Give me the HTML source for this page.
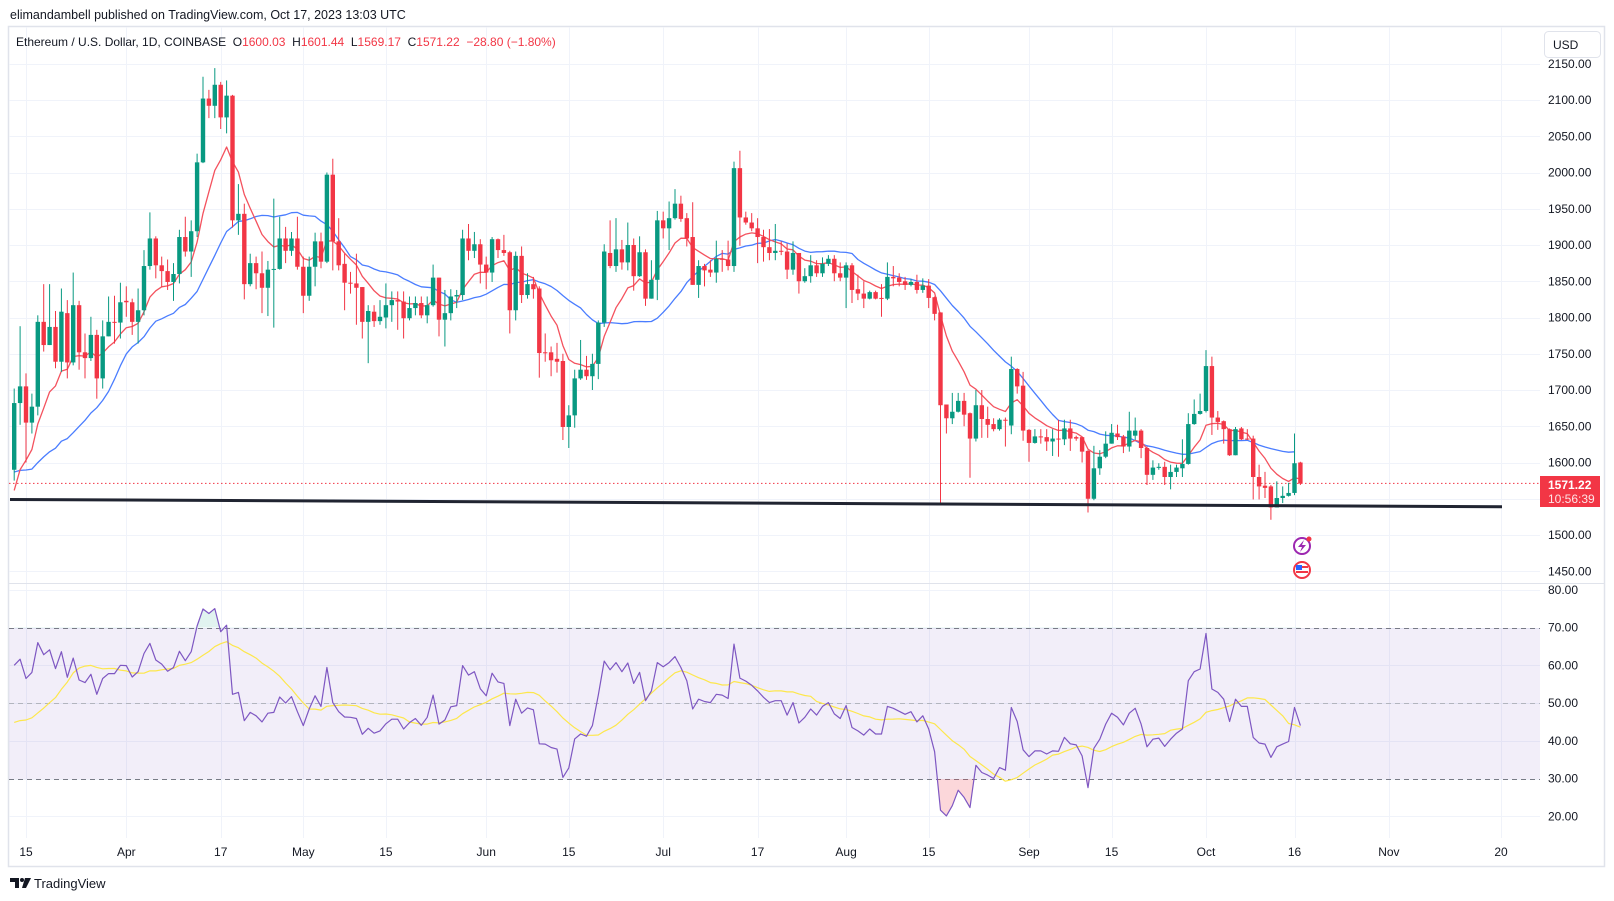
<!DOCTYPE html>
<html><head><meta charset="utf-8">
<style>
html,body{margin:0;padding:0;background:#fff;width:1614px;height:901px;overflow:hidden}
svg{display:block;font-family:"Liberation Sans",sans-serif}
</style></head>
<body>
<svg id="chart" width="1614" height="901" viewBox="0 0 1614 901" xmlns="http://www.w3.org/2000/svg">
<defs>
<clipPath id="pricePane"><rect x="9" y="27" width="1531" height="556"/></clipPath>
<clipPath id="above70"><rect x="9" y="584" width="1531" height="44"/></clipPath>
<clipPath id="below30"><rect x="9" y="779" width="1531" height="60"/></clipPath>
</defs>
<text x="10" y="19" font-size="12.5" fill="#131722">elimandambell published on TradingView.com, Oct 17, 2023 13:03 UTC</text>
<rect x="8.5" y="26.5" width="1596" height="840" fill="#fff" stroke="#e0e3eb" stroke-width="1.5"/>
<g id="grid"></g>
<rect x="9" y="628" width="1531" height="151" fill="#7e57c2" fill-opacity="0.1"/>
<g id="rsiLevels"></g>
<g id="price" clip-path="url(#pricePane)"></g>
<g id="rsi"></g>
<line x1="9" y1="583.5" x2="1604" y2="583.5" stroke="#e0e3eb"/>
<g id="axes"></g>
<text x="16" y="46" font-size="12" fill="#131722" style="white-space:pre" xml:space="preserve">Ethereum / U.S. Dollar, 1D, COINBASE  O<tspan fill="#f23645">1600.03</tspan>  H<tspan fill="#f23645">1601.44</tspan>  L<tspan fill="#f23645">1569.17</tspan>  C<tspan fill="#f23645">1571.22  −28.80 (−1.80%)</tspan></text>
<g>
<rect x="1544.5" y="31.5" width="56" height="26" rx="4" fill="#fff" stroke="#e0e3eb"/>
<text x="1553" y="49" font-size="12" fill="#131722">USD</text>
</g>
<g>
<rect x="1540" y="476" width="60" height="31" fill="#f23645"/>
<text x="1548" y="489" font-size="12" font-weight="bold" fill="#fff">1571.22</text>
<text x="1548" y="503" font-size="12" fill="#fde4e6">10:56:39</text>
</g>
<g>
<circle cx="1302" cy="546" r="8" fill="#fff" stroke="#9c27b0" stroke-width="2"/>
<path d="M1304,540 L1298,547 L1302,547 L1300,552 L1306,545 L1302,545 Z" fill="#9c27b0"/>
<circle cx="1309" cy="539" r="2.5" fill="#f23645"/>
</g>
<g>
<circle cx="1302" cy="570" r="8" fill="#fff" stroke="#f23645" stroke-width="2"/>
<rect x="1296" y="566" width="12" height="2" fill="#f23645"/>
<rect x="1296" y="571" width="12" height="2" fill="#f23645"/>
<rect x="1296" y="565" width="6" height="5" fill="#2962ff"/>
</g>
<g>
<path d="M10,878 h9 v10 h-4 v-6 h-5 z" fill="#131722"/>
<circle cx="22" cy="880" r="2" fill="#131722"/>
<path d="M25,878 h6 l-5,10 h-4 z" fill="#131722"/>
<text x="34" y="888" font-size="13" fill="#131722">TradingView</text>
</g>
</svg>
<script>
// ---- data ----
const preCloses = [1660,1643,1650,1607,1595,1640,1634,1605,1664,1647,1569,1566,1564,1565,1562,1534,1438,1430,1480,1590];
const opens = [1590,1682,1705,1655,1677,1794,1762,1787,1739,1806,
1738,1817,1752,1744,1776,1716,1774,1794,1793,1823,
1821,1794,1810,1871,1909,1872,1864,1849,1860,1911,
1891,1919,2014,2102,2092,2121,2076,2106,1934,1943,
1846,1875,1861,1841,1866,1867,1909,1892,1909,1870,
1830,1870,1905,1877,1997,1905,1874,1848,1847,1842,
1794,1808,1795,1800,1817,1824,1822,1799,1813,1820,
1803,1817,1855,1797,1806,1829,1831,1909,1892,1901,
1873,1862,1908,1893,1890,1810,1885,1831,1846,1840,
1752,1752,1743,1740,1649,1665,1716,1728,1719,1736,
1793,1889,1871,1894,1876,1900,1857,1890,1826,1852,
1934,1923,1937,1957,1937,1911,1845,1871,1866,1862,
1881,1880,1871,2006,1938,1931,1923,1911,1897,1889,
1892,1891,1866,1889,1850,1857,1872,1861,1874,1881,
1861,1855,1872,1839,1833,1826,1835,1827,1826,1856,
1855,1850,1845,1849,1838,1844,1828,1807,1680,1661,
1670,1685,1668,1633,1679,1660,1653,1646,1659,1651,
1729,1706,1645,1627,1636,1635,1629,1633,1632,1647,
1635,1635,1616,1550,1592,1608,1626,1640,1636,1622,
1637,1644,1620,1583,1593,1594,1580,1587,1592,1598,
1653,1667,1671,1733,1662,1657,1646,1610,1647,1633,
1633,1580,1568,1567,1538,1551,1554,1558,1600];
const closes = [1682,1705,1655,1677,1794,1762,1787,1739,1808,1738,
1817,1752,1744,1776,1716,1774,1794,1793,1821,1821,
1794,1810,1871,1909,1872,1864,1849,1860,1911,1891,
1919,2014,2102,2092,2121,2076,2106,1934,1943,1846,
1875,1861,1841,1866,1867,1909,1892,1909,1870,1830,
1870,1905,1877,1997,1905,1872,1848,1847,1841,1794,
1809,1795,1801,1817,1824,1822,1799,1813,1820,1803,
1817,1855,1797,1806,1829,1831,1909,1892,1901,1873,
1862,1908,1893,1889,1810,1885,1831,1846,1839,1751,
1751,1741,1739,1649,1665,1716,1728,1719,1736,1793,
1891,1871,1894,1876,1900,1857,1890,1826,1852,1934,
1923,1937,1957,1936,1909,1845,1871,1865,1862,1881,
1880,1871,2006,1938,1931,1923,1911,1897,1889,1892,
1891,1866,1889,1850,1857,1872,1861,1874,1881,1861,
1855,1872,1838,1833,1826,1835,1826,1826,1856,1854,
1849,1845,1849,1838,1844,1827,1805,1679,1661,1670,
1685,1666,1633,1679,1660,1652,1646,1659,1658,1729,
1705,1644,1627,1636,1635,1629,1633,1632,1647,1633,
1633,1615,1550,1592,1608,1626,1641,1635,1622,1644,
1644,1620,1583,1593,1594,1580,1587,1593,1598,1653,
1667,1671,1733,1662,1656,1646,1610,1646,1632,1632,
1580,1567,1565,1538,1551,1554,1558,1599,1571];
const highs = [1702,1788,1723,1695,1803,1846,1846,1809,1840,1824,
1862,1823,1778,1801,1783,1796,1829,1830,1848,1843,
1826,1840,1893,1945,1912,1884,1880,1875,1921,1939,
1934,2026,2132,2114,2144,2125,2127,2107,1984,1957,
1888,1884,1891,1878,1964,1939,1925,1918,1939,1884,
1884,1917,1917,2000,2019,1937,1888,1863,1888,1842,
1817,1817,1824,1847,1836,1836,1836,1829,1829,1829,
1829,1873,1855,1838,1839,1838,1921,1929,1918,1908,
1884,1911,1909,1914,1892,1891,1898,1861,1856,1843,
1778,1760,1765,1750,1679,1728,1769,1747,1750,1796,
1901,1934,1937,1907,1931,1909,1912,1894,1879,1947,
1946,1960,1977,1968,1944,1959,1879,1874,1879,1906,
1893,1906,2015,2030,1946,1944,1937,1921,1922,1929,
1905,1902,1905,1889,1868,1886,1879,1883,1886,1886,
1876,1876,1875,1859,1850,1837,1837,1846,1876,1871,
1861,1856,1853,1859,1854,1853,1829,1807,1680,1696,
1696,1696,1669,1700,1700,1677,1661,1661,1662,1746,
1730,1725,1646,1646,1646,1646,1646,1659,1659,1659,
1637,1635,1617,1623,1617,1643,1653,1652,1638,1670,
1662,1646,1622,1603,1599,1601,1597,1597,1632,1668,
1687,1695,1755,1746,1671,1658,1647,1649,1649,1646,
1637,1597,1587,1569,1574,1567,1572,1640,1601];
const lows = [1575,1652,1600,1640,1665,1753,1762,1730,1725,1716,
1734,1728,1716,1740,1688,1702,1774,1764,1771,1801,
1776,1764,1803,1866,1854,1842,1838,1823,1847,1884,
1856,1911,2013,2075,2075,2060,2054,1924,1914,1825,
1843,1839,1806,1802,1786,1866,1875,1885,1866,1806,
1823,1843,1868,1875,1865,1865,1810,1833,1790,1771,
1737,1787,1790,1785,1794,1783,1771,1796,1803,1799,
1792,1815,1774,1760,1796,1813,1824,1879,1882,1847,
1839,1849,1882,1885,1778,1796,1820,1826,1826,1717,
1739,1719,1724,1631,1620,1648,1714,1714,1700,1715,
1787,1868,1863,1866,1865,1837,1856,1816,1826,1824,
1909,1893,1935,1932,1898,1845,1827,1843,1856,1848,
1863,1865,1863,1899,1928,1919,1875,1877,1879,1879,
1886,1853,1859,1833,1848,1848,1856,1856,1871,1850,
1850,1813,1820,1824,1813,1825,1825,1801,1824,1843,
1843,1838,1843,1833,1834,1813,1796,1542,1640,1653,
1669,1650,1579,1629,1634,1634,1643,1644,1622,1639,
1695,1630,1601,1626,1626,1616,1609,1608,1624,1616,
1630,1600,1531,1548,1583,1606,1626,1631,1613,1615,
1631,1606,1569,1576,1590,1569,1563,1580,1580,1597,
1652,1666,1669,1638,1645,1626,1609,1610,1631,1631,
1549,1549,1551,1521,1538,1544,1553,1555,1569];
const preRsi = [55,54,50,48,45,44,40,33,30,28,38,48,55];
const rsiValues = [60.0,61.6,56.5,58.1,66.0,62.8,64.1,59.1,63.6,56.8,
61.9,56.1,55.4,57.6,52.3,56.5,57.8,57.8,60.0,59.9,
56.9,58.3,63.1,65.8,61.4,60.3,58.4,59.4,63.7,61.2,
63.6,70.4,74.9,73.7,75.0,68.9,70.6,52.3,52.8,45.3,
47.5,46.6,45.0,47.3,47.5,51.6,50.0,51.7,47.7,44.0,
48.4,51.9,49.1,59.4,50.1,47.7,46.3,46.2,45.9,41.7,
43.3,42.0,42.6,44.5,45.7,45.7,43.1,44.8,45.9,44.1,
46.2,52.1,44.4,45.5,49.0,49.3,59.9,57.4,58.3,53.8,
51.9,57.9,55.6,55.2,44.0,51.0,47.3,48.7,48.2,39.2,
39.1,38.2,37.8,30.3,32.8,40.5,41.8,41.2,44.0,52.1,
61.1,58.8,60.7,58.3,60.6,55.2,58.1,50.6,53.2,60.7,
59.6,60.7,62.3,59.4,55.9,48.4,51.0,50.4,50.1,52.3,
52.1,51.2,65.6,56.6,55.8,54.7,53.2,51.5,50.1,50.6,
50.6,46.8,50.1,44.7,46.2,48.4,46.8,49.1,50.1,47.1,
45.9,49.3,43.5,42.6,41.5,43.1,41.8,41.8,49.1,48.6,
47.8,47.0,47.7,45.0,46.6,43.1,37.1,21.6,20.1,22.8,
26.9,25.0,22.3,33.5,31.6,30.9,30.0,32.9,32.2,48.8,
45.1,37.6,35.8,37.3,37.3,36.5,37.3,37.2,40.9,39.2,
38.9,36.0,27.6,38.0,40.4,44.4,47.3,46.2,44.2,47.3,
48.6,44.4,38.4,40.4,40.7,38.5,40.4,42.0,43.1,55.9,
58.3,59.0,68.4,53.7,52.8,51.0,45.1,51.0,49.1,49.1,
40.9,39.4,39.1,35.6,38.4,39.1,39.8,48.8,44.0];
const priceTicks = [1450,1500,1550,1600,1650,1700,1750,1800,1850,1900,1950,2000,2050,2100,2150];
const priceTickLabels = ["1450.00","1500.00","","1600.00","1650.00","1700.00","1750.00","1800.00","1850.00","1900.00","1950.00","2000.00","2050.00","2100.00","2150.00"];
const rsiTicks = [20,30,40,50,60,70,80];
const timeTickIdx = [2,19,35,49,63,80,94,110,126,141,155,172,186,202,217,233,252];
const timeTickLabels = ["15","Apr","17","May","15","Jun","15","Jul","17","Aug","15","Sep","15","Oct","16","Nov","20"];
const supportLine = [1549, 1539];
const lastPrice = 1571.22;

// ---- scales ----
const X0 = 14.2, DX = 5.9;
const xOf = i => X0 + DX * i;
const yP = p => 100 + (2100 - p) * 0.725;
const yR = v => 703 - (v - 50) * 3.775;
const NS = "http://www.w3.org/2000/svg";
function mk(tag, attrs, parent){ const e=document.createElementNS(NS,tag); for(const k in attrs) e.setAttribute(k,attrs[k]); parent.appendChild(e); return e; }

const grid = document.getElementById('grid');
const axes = document.getElementById('axes');
priceTicks.forEach((p,k)=>{
  const y = Math.round(yP(p))+0.5;
  if (y < 27) return;
  const l = mk('line',{x1:9,x2:1540,y1:y,y2:y,stroke:'#f0f3fa'},grid);
  
  
  if (priceTickLabels[k]) {
    const t = mk('text',{x:1548,y:Math.max(yP(p)+4,67),'font-size':12,fill:'#131722'},axes);
    t.textContent = priceTickLabels[k];
    
    
  }
});
rsiTicks.forEach(v=>{
  const y = Math.round(yR(v))+0.5;
  const l = mk('line',{x1:9,x2:1540,y1:y,y2:y,stroke:'#f0f3fa'},grid);
  
  
  const t = mk('text',{x:1548,y:yR(v)+4,'font-size':12,fill:'#131722'},axes);
  t.textContent = v.toFixed(2);
  
  
});
timeTickIdx.forEach((i,k)=>{
  const x = Math.round(xOf(i))+0.5;
  const l = mk('line',{x1:x,x2:x,y1:27,y2:838,stroke:'#f0f3fa'},grid);
  
  
  const t = mk('text',{x:xOf(i),y:856,'font-size':12,fill:'#131722','text-anchor':'middle'},axes);
  t.textContent = timeTickLabels[k];
  
  
});
const lv = document.getElementById('rsiLevels');
[[70,'#787b86'],[50,'#b2b5be'],[30,'#787b86']].forEach(([v,c])=>{
  const y = Math.round(yR(v))+0.5;
  const l = mk('line',{x1:9,x2:1540,y1:y,y2:y,stroke:c,'stroke-dasharray':'5,4'},lv);
  
  
});

// ---- price pane ----
const pg = document.getElementById('price');
const lpl = mk('line',{x1:9,x2:1540,y1:yP(lastPrice),y2:yP(lastPrice),stroke:'#f23645','stroke-dasharray':'1.5,2.5'},pg);


const allCloses = preCloses.concat(closes);
function sma(arr, n, offset){ const out=[]; for(let i=offset;i<arr.length;i++){ let s=0; for(let k=i-n+1;k<=i;k++) s+=arr[k]; out.push(s/n);} return out; }
function ema(arr, n, offset){ const a=2/(n+1); let e=arr[0]; const out=[]; for(let i=1;i<arr.length;i++){ e=a*arr[i]+(1-a)*e; if(i>=offset) out.push(e);} return out; }
const ma9 = ema(allCloses, 9, preCloses.length);
const ma21 = sma(allCloses, 21, preCloses.length);
function line(vals, yf, color, name, parent, w){
  const d = vals.map((v,i)=>(i?'L':'M')+xOf(i).toFixed(1)+','+yf(v).toFixed(1)).join('');
  const p = mk('path',{d:d,fill:'none',stroke:color,'stroke-width':w||1.3,'stroke-linejoin':'round'},parent);
  
  
  return p;
}
line(ma21.slice(0,218), yP, '#4a7dff', 'sma-21-line', pg);
line(ma9, yP, '#f4525e', 'ema-9-line', pg);
for (let i=0;i<closes.length;i++){
  const o=opens[i], c=closes[i];
  const h=Math.max(highs[i],o,c), l=Math.min(lows[i],o,c);
  const col = c>=o ? '#089981' : '#f23645';
  const x = xOf(i);
  const g = mk('g',{},pg);
  
  
  mk('line',{x1:x,x2:x,y1:yP(h),y2:yP(l),stroke:col,'stroke-width':1},g);
  const yt=yP(Math.max(o,c)), yb=yP(Math.min(o,c));
  mk('rect',{x:x-2.2,y:yt,width:4.4,height:Math.max(yb-yt,1),fill:col},g);
}
const sl = mk('line',{x1:10,x2:1502,y1:yP(supportLine[0]),y2:yP(supportLine[1]),stroke:'#202431','stroke-width':3},pg);



// ---- RSI pane ----
const rg = document.getElementById('rsi');
const rsiPath = rsiValues.map((v,i)=>(i?'L':'M')+xOf(i).toFixed(1)+','+yR(v).toFixed(1)).join('');
const fillHi = mk('path',{d:rsiPath+'L'+xOf(rsiValues.length-1)+','+yR(70)+'L'+xOf(0)+','+yR(70)+'Z',fill:'#089981','fill-opacity':0.12,'clip-path':'url(#above70)'},rg);


const fillLo = mk('path',{d:rsiPath+'L'+xOf(rsiValues.length-1)+','+yR(30)+'L'+xOf(0)+','+yR(30)+'Z',fill:'#f23645','fill-opacity':0.2,'clip-path':'url(#below30)'},rg);


const allRsi = preRsi.concat(rsiValues);
const rsiMa = sma(allRsi, 14, preRsi.length);
line(rsiMa, yR, '#fde74c', 'rsi-ma-line', rg, 1.2);
line(rsiValues, yR, '#7e57c2', 'rsi-line', rg, 1.2);
</script>
</body></html>
